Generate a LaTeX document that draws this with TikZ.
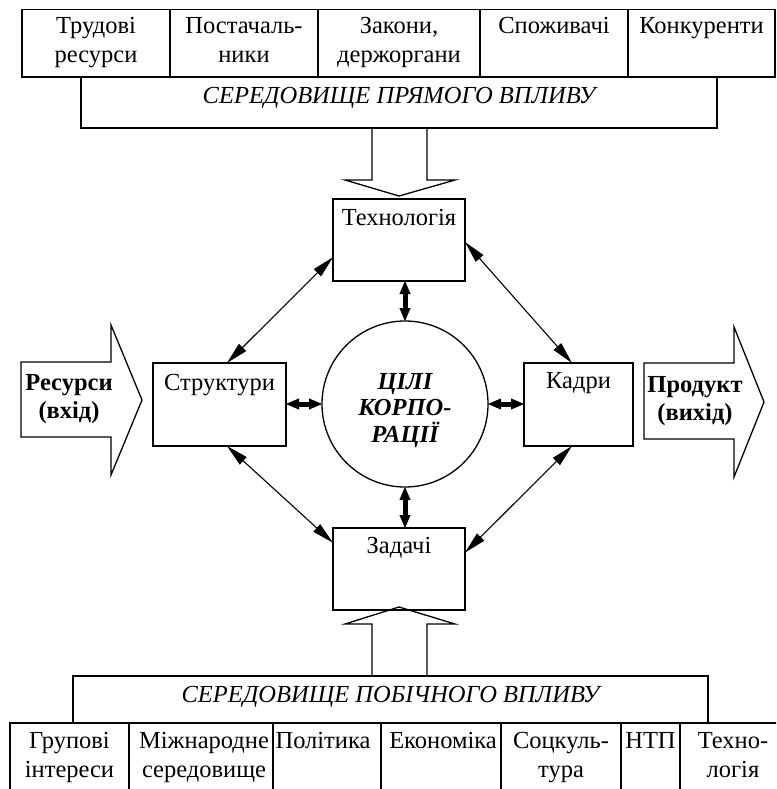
\documentclass[tikz,border=0pt]{standalone}
\usepackage{fontspec}
\setmainfont{Liberation Serif}
\usetikzlibrary{arrows.meta,calc}

\begin{document}
\begin{tikzpicture}[x=1pt,y=-1pt,
  every node/.style={inner sep=0pt,outer sep=0pt,font=\fontsize{24.5}{29}\selectfont},
  frame/.style={draw,rectangle,line width=1.5pt},
  txt/.style={anchor=base,align=center},
  goal/.style={draw,circle,line width=1.3pt,minimum size=166pt},
  fat/.style={draw,line width=1.3pt,line join=miter},
  link/.style={line width=1.1pt,{Triangle[length=22pt,width=10pt]}-{Triangle[length=22pt,width=10pt]}},
  bow/.style={line width=5pt,{Triangle[length=13pt,width=11pt,line width=0.4pt]}-{Triangle[length=13pt,width=11pt,line width=0.4pt]}}]

\clip (0,0) rectangle (776,789);

% --- direct-influence environment (top); a node's base is its last line ---
\node[frame,minimum width=148pt,minimum height=67.5pt] (t1) at (96,43.25) {};
\node[frame,minimum width=148pt,minimum height=67.5pt] (t2) at (244,43.25) {};
\node[frame,minimum width=162pt,minimum height=67.5pt] (t3) at (399,43.25) {};
\node[frame,minimum width=148pt,minimum height=67.5pt] (t4) at (554,43.25) {};
\node[frame,minimum width=147pt,minimum height=67.5pt] (t5) at (701.5,43.25) {};
\node[txt] (t1t) at ($(t1.north)+(0,53.5)$) {Трудові\\ресурси};
\node[txt] (t2t) at ($(t2.north)+(0,53.5)$) {Постачаль-\\ники};
\node[txt] (t3t) at ($(t3.north)+(0,53.5)$) {Закони,\\держоргани};
\node[txt] (t4t) at ($(t4.north)+(0,24.5)$) {Споживачі};
\node[txt] (t5t) at ($(t5.north)+(0,24.5)$) {Конкуренти};

\node[frame,minimum width=636pt,minimum height=51pt] (envtop) at (399,102.5) {};
\node[txt,font=\fontsize{24.5}{29}\selectfont\itshape] (envtopt) at ($(envtop.north)+(0,26)$) {СЕРЕДОВИЩЕ ПРЯМОГО ВПЛИВУ};

% --- core of the corporation ---
\node[frame,minimum width=132pt,minimum height=82pt] (tech) at (399,240) {};
\node[txt] (techt) at ($(tech.north)+(0,26)$) {Технологія};
\node[frame,minimum width=133pt,minimum height=83pt] (struct) at (219.5,404.5) {};
\node[txt] (structt) at ($(struct.north)+(0,27)$) {Структури};
\node[frame,minimum width=109pt,minimum height=83pt] (staff) at (578.5,404.5) {};
\node[txt] (stafft) at ($(staff.north)+(0,25)$) {Кадри};
\node[frame,minimum width=132pt,minimum height=82pt] (tasks) at (399,569) {};
\node[txt] (taskst) at ($(tasks.north)+(0,25)$) {Задачі};
\node[goal] (goal) at (405,404) {};
\node[txt,font=\fontsize{24.5}{26.5}\selectfont\bfseries\itshape] (goalt) at (405,442) {ЦІЛІ\\КОРПО-\\РАЦІЇ};

% --- side-influence environment (bottom) ---
\node[frame,minimum width=635pt,minimum height=47pt] (envbot) at (390.5,699.5) {};
\node[txt,font=\fontsize{24.5}{29}\selectfont\itshape] (envbott) at ($(envbot.north)+(0,26)$) {СЕРЕДОВИЩЕ ПОБІЧНОГО ВПЛИВУ};
\node[frame,minimum width=119pt,minimum height=77pt] (b1) at (69.5,761.5) {};
\node[frame,minimum width=144pt,minimum height=77pt] (b2) at (201,761.5) {};
\node[frame,minimum width=108pt,minimum height=77pt] (b3) at (327,761.5) {};
\node[frame,minimum width=120pt,minimum height=77pt] (b4) at (441,761.5) {};
\node[frame,minimum width=120pt,minimum height=77pt] (b5) at (561,761.5) {};
\node[frame,minimum width=59pt,minimum height=77pt] (b6) at (650.5,761.5) {};
\node[frame,minimum width=106pt,minimum height=77pt] (b7) at (733,761.5) {};
\node[txt] (b1t) at ($(b1.north)+(0,54)$) {Групові\\інтереси};
\node[txt] (b2t) at ($(b2.north)+(3,54)$) {Міжнародне\\середовище};
\node[txt] (b3t) at ($(b3.north)+(-4,25)$) {Політика};
\node[txt] (b4t) at ($(b4.north)+(2,25)$) {Економіка};
\node[txt] (b5t) at ($(b5.north)+(0,54)$) {Соцкуль-\\тура};
\node[txt] (b6t) at ($(b6.north)+(0,25)$) {НТП};
\node[txt] (b7t) at ($(b7.north)+(0,54)$) {Техно-\\логія};

% --- broad hollow arrows ---
\draw[fat] (372,128) -- (372,180) -- (345,180) -- (399,196) -- (455,180) -- (427,180) -- (427,128);
\draw[fat] (372,676) -- (372,624) -- (345,624) -- (399,607) -- (455,624) -- (427,624) -- (427,676);
\draw[fat] (21,362) -- (111,362) -- (111,325) -- (142,400) -- (111,475) -- (111,437) -- (21,437) -- cycle;
\draw[fat] (644,363) -- (734,363) -- (734,327) -- (764,402) -- (734,477) -- (734,439) -- (644,439) -- cycle;
\node[txt,font=\fontsize{24.5}{28}\selectfont\bfseries] (inp) at (69,418) {Ресурси\\(вхід)};
\node[txt,font=\fontsize{24.5}{28}\selectfont\bfseries] (outp) at (695,420) {Продукт\\(вихід)};

% --- links between the elements ---
\draw[link] ($(struct.north west)!0.556!(struct.north east)$) -- ($(tech.south west)!0.29!(tech.north west)$);
\draw[link] ($(staff.north west)!0.44!(staff.north east)$) -- ($(tech.south east)!0.476!(tech.north east)$);
\draw[link] ($(struct.south west)!0.556!(struct.south east)$) -- ($(tasks.north west)!0.18!(tasks.south west)$);
\draw[link] ($(staff.south west)!0.44!(staff.south east)$) -- ($(tasks.north east)!0.30!(tasks.south east)$);

\draw[bow] (goal.north) -- (goal.north |- tech.south);
\draw[bow] (goal.south) -- (goal.south |- tasks.north);
\draw[bow] (goal.west) -- (goal.west -| struct.east);
\draw[bow] (goal.east) -- (goal.east -| staff.west);
\end{tikzpicture}
\end{document}
